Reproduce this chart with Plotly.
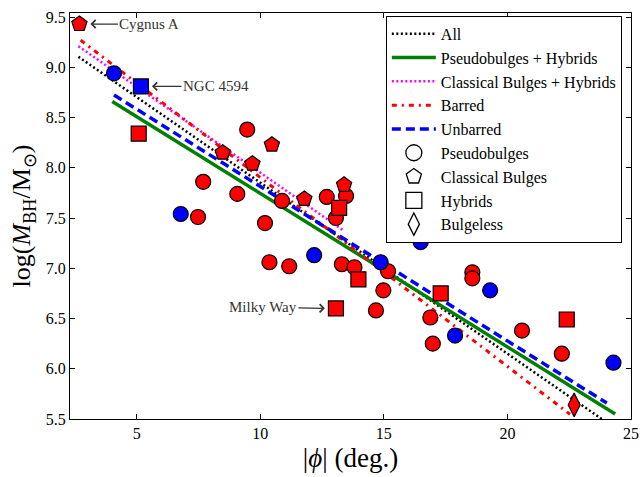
import plotly.graph_objects as go

# ---------------- data ----------------
# Pseudobulges (circles)
pseudo_red_x = [9.47, 7.69, 9.07, 10.88, 12.69, 13.47, 13.06, 10.19, 7.48, 10.37, 11.17,
                13.30, 13.81, 15.17, 14.98, 14.68, 16.88, 16.98, 18.58, 18.58, 20.59, 22.20]
pseudo_red_y = [8.38, 7.86, 7.74, 7.67, 7.71, 7.72, 7.50, 7.45, 7.51, 7.06, 7.02,
                7.04, 7.01, 6.97, 6.78, 6.58, 6.51, 6.25, 6.96, 6.90, 6.38, 6.15]
pseudo_blue_x = [4.08, 6.78, 12.18, 14.87, 16.49, 17.88, 19.30, 24.29]
pseudo_blue_y = [8.94, 7.54, 7.13, 7.06, 7.26, 6.33, 6.78, 6.06]

# Classical bulges (pentagons)
classical_red_x = [2.68, 8.48, 9.68, 10.47, 11.78, 13.39]
classical_red_y = [9.43, 8.15, 8.04, 8.23, 7.69, 7.83]

# Hybrids (squares)
hybrid_blue_x = [5.17]
hybrid_blue_y = [8.81]
hybrid_red_x = [5.08, 13.19, 13.97, 13.06, 17.30, 22.40]
hybrid_red_y = [8.34, 7.60, 6.89, 6.60, 6.75, 6.49]

# Bulgeless (diamond)
bulgeless_red_x = [22.70]
bulgeless_red_y = [5.64]

# Fits: y = a + b * x, drawn over [xmin, xmax]
fit_names = ["All", "Pseudobulges + Hybrids", "Classical Bulges + Hybrids", "Barred", "Unbarred"]
fit_a = [9.554, 9.273, 9.661, 9.783, 9.351]
fit_b = [-0.1702, -0.1528, -0.171, -0.188, -0.1537]
fit_xmin = [2.64, 4.01, 2.64, 2.73, 4.08]
fit_xmax = [23.82, 24.36, 13.4, 22.53, 24.02]

legend_marker_names = ["Pseudobulges", "Classical Bulges", "Hybrids", "Bulgeless"]

x_ticks = [5, 10, 15, 20, 25]
x_ticklabels = ["5", "10", "15", "20", "25"]
y_ticks = [5.5, 6.0, 6.5, 7.0, 7.5, 8.0, 8.5, 9.0, 9.5]
y_ticklabels = ["5.5", "6.0", "6.5", "7.0", "7.5", "8.0", "8.5", "9.0", "9.5"]

# ---------------- styles ----------------
SERIF = "Liberation Serif"
RED = "#FF0000"
BLUE = "#0000FF"
fit_styles = [
    dict(color="black", width=2.5, dash="2px,2.5px"),
    dict(color="#008000", width=3.5, dash="solid"),
    dict(color="#FF00FF", width=2.5, dash="2px,2.5px"),
    dict(color=RED, width=3, dash="5px,5px,2px,5px"),
    dict(color=BLUE, width=3.5, dash="9px,5px"),
]
legend_symbols = ["circle", "pentagon", "square", "diamond-tall"]
legend_sizes = [17, 17, 17, 17]

fig = go.Figure()

for name, a, b, x0, x1, st in zip(fit_names, fit_a, fit_b, fit_xmin, fit_xmax, fit_styles):
    xs = [x0, x1]
    ys = [a + b * x for x in xs]
    fig.add_trace(go.Scatter(x=xs, y=ys, mode="lines", name=name, line=st,
                             hoverinfo="skip"))

for name, sym, sz in zip(legend_marker_names, legend_symbols, legend_sizes):
    fig.add_trace(go.Scatter(x=[None], y=[None], mode="markers", name=name,
                             marker=dict(symbol=sym, size=sz, color="white",
                                         line=dict(color="black", width=1.3))))

def add_points(xs, ys, sym, color, size):
    fig.add_trace(go.Scatter(x=xs, y=ys, mode="markers", showlegend=False,
                             marker=dict(symbol=sym, size=size, color=color,
                                         line=dict(color="black", width=1.2))))

add_points(pseudo_red_x, pseudo_red_y, "circle", RED, 15)
add_points(pseudo_blue_x, pseudo_blue_y, "circle", BLUE, 15)
add_points(classical_red_x, classical_red_y, "pentagon", RED, 16)
add_points(hybrid_red_x, hybrid_red_y, "square", RED, 15)
add_points(hybrid_blue_x, hybrid_blue_y, "square", BLUE, 15)
add_points(bulgeless_red_x, bulgeless_red_y, "diamond-tall", RED, 17)

ann_font = dict(family=SERIF, size=15, color="#333333")
annotations = [
    dict(x=classical_red_x[0], y=classical_red_y[0], text="Cygnus A", ax=70, ay=0),
    dict(x=hybrid_blue_x[0], y=hybrid_blue_y[0], text="NGC 4594", ax=75, ay=0),
    dict(x=hybrid_red_x[3], y=hybrid_red_y[3], text="Milky Way", ax=-73, ay=-1),
]
for an in annotations:
    an.update(xref="x", yref="y", axref="pixel", ayref="pixel", showarrow=True,
              arrowhead=4, arrowsize=1.2, arrowwidth=1.3, arrowcolor="#333333",
              standoff=11, font=ann_font)

axis_common = dict(showline=True, linecolor="black", linewidth=1.3, mirror="ticks",
                   ticks="inside", ticklen=5, tickwidth=1, tickcolor="black",
                   showgrid=False, zeroline=False, ticklabeloverflow="allow",
                   tickfont=dict(family=SERIF, size=16, color="black"))

fig.update_layout(
    width=640, height=477,
    margin=dict(l=70, r=9, t=13, b=58),
    paper_bgcolor="white", plot_bgcolor="white",
    font=dict(family=SERIF, color="black"),
    showlegend=True,
    legend=dict(x=0.563, y=0.993, xanchor="left", yanchor="top",
                bordercolor="black", borderwidth=1, bgcolor="white",
                font=dict(family=SERIF, size=16, color="black"),
                itemwidth=44, tracegroupgap=0),
    xaxis=dict(range=[2.3, 25], tickvals=x_ticks, ticktext=x_ticklabels,
               title=dict(text="|<i>ϕ</i>| (deg.)", font=dict(family=SERIF, size=27, color="black"),
                          standoff=6),
               automargin=False, **axis_common),
    yaxis=dict(range=[5.5, 9.54], tickvals=y_ticks, ticktext=y_ticklabels,
               title=dict(text="log(<i>M</i><sub>BH</sub>/M<sub>⊙</sub>)",
                          font=dict(family=SERIF, size=26, color="black"), standoff=7),
               automargin=False, **axis_common),
    annotations=annotations,
)

# remove the default page margin so the 640x477 figure fills the window exactly
fig.write_html("out.html", config={"displayModeBar": False},
               post_script="document.body.style.margin='0';document.body.style.overflow='hidden';")
